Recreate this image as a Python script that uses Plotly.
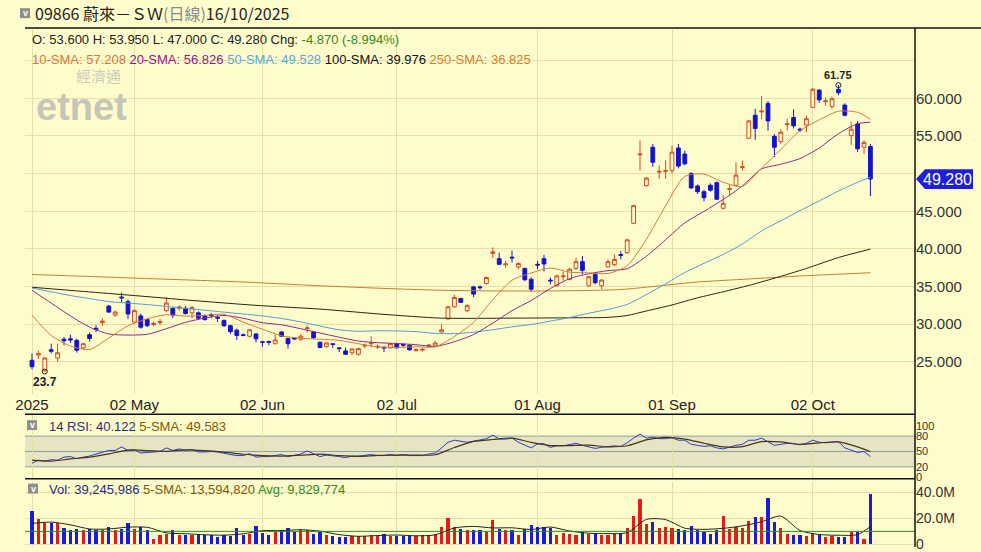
import pandas as pd
import plotly.graph_objects as go

# ---------------- data ----------------
hk_holidays = ["2025-04-18", "2025-04-21", "2025-05-01", "2025-05-05",
               "2025-07-01", "2025-10-01", "2025-10-07"]
dates = [d.strftime("%Y-%m-%d") for d in pd.bdate_range("2025-04-07", "2025-10-16")
         if d.strftime("%Y-%m-%d") not in hk_holidays]

open_ = [25.2, 25.9, 23.8, 26.6, 25.5, 28.0, 28.05, 27.85, 26.85, 28.6,
         29.45, 30.2, 32.4, 31.2, 33.6, 32.99, 30.27, 31.1, 30.6, 29.95,
         30.2, 31.8, 32.1, 32.1, 32.1, 31.5, 31.5, 31.1, 31.25, 30.9,
         30.5, 29.8, 29.2, 28.6, 28.4, 28.7, 27.65, 27.7, 27.4, 28.95,
         28.1, 28.15, 28.0, 29.4, 28.95, 27.6, 27.0, 27.4, 26.85, 26.45,
         26.2, 26.0, 27.1, 27.4, 26.95, 26.95, 26.85, 27.4, 27.3, 27.2,
         26.5, 26.55, 27.1, 27.1, 28.95, 30.7, 32.3, 33.4, 31.8, 34.95,
         34.95, 35.4, 39.4, 38.7, 37.9, 38.9, 37.6, 37.4, 35.95, 37.95,
         38.7, 35.85, 35.1, 36.3, 35.95, 37.4, 38.3, 35.1, 36.6, 35.1,
         37.6, 37.9, 39.25, 39.5, 43.4, 52.5, 48.4, 53.5, 50.2, 50.3,
         50.4, 53.4, 52.6, 50.0, 48.35, 47.6, 48.45, 48.8, 45.4, 47.9,
         48.45, 50.8, 54.7, 57.75, 58.2, 59.3, 54.95, 54.25, 56.5, 57.45,
         55.9, 56.45, 58.8, 61.1, 59.55, 58.9, 61.2, 59.1, 55.05, 56.6,
         53.5, 53.6]
high = [26.1, 26.5, 25.6, 27.4, 27.4, 28.3, 28.6, 28.07, 27.5, 28.9,
        29.85, 30.8, 32.55, 31.8, 34.2, 33.3, 32.0, 31.4, 30.7, 30.35,
        30.7, 33.6, 32.2, 32.5, 32.4, 32.4, 31.7, 31.3, 31.5, 31.15,
        30.6, 29.9, 29.4, 28.75, 29.35, 28.8, 27.7, 27.8, 28.6, 29.1,
        28.2, 28.2, 28.7, 29.85, 29.1, 27.7, 27.6, 27.45, 26.9, 26.9,
        26.8, 26.85, 27.45, 28.4, 27.3, 27.0, 27.5, 27.5, 27.45, 27.3,
        26.75, 26.85, 27.35, 27.75, 29.95, 32.45, 33.9, 33.5, 32.65, 35.1,
        35.15, 36.3, 40.2, 39.5, 38.4, 39.8, 38.2, 37.5, 36.2, 38.4,
        39.2, 36.2, 36.6, 37.0, 37.5, 38.8, 39.05, 36.4, 36.8, 36.0,
        38.6, 39.25, 39.7, 41.35, 45.85, 54.4, 49.55, 53.95, 51.1, 51.75,
        53.7, 53.95, 53.05, 50.2, 48.55, 47.85, 48.7, 48.95, 47.15, 48.5,
        51.5, 51.75, 57.15, 58.6, 60.3, 59.65, 55.25, 55.9, 57.3, 58.55,
        56.1, 57.7, 61.4, 61.2, 60.1, 60.2, 61.75, 59.35, 56.9, 57.0,
        54.4, 53.95]
low = [24.0, 25.4, 23.7, 26.1, 25.0, 27.2, 27.5, 26.23, 26.7, 27.7,
       28.95, 29.8, 31.5, 31.0, 32.9, 30.7, 30.2, 29.4, 29.6, 29.75,
       29.9, 31.6, 30.8, 31.8, 31.3, 30.8, 30.6, 30.5, 30.8, 30.3,
       29.6, 28.7, 27.9, 28.4, 28.2, 27.6, 27.0, 27.2, 27.3, 28.3,
       26.75, 27.9, 27.8, 28.9, 28.0, 26.8, 26.9, 26.85, 26.3, 25.9,
       25.9, 25.8, 26.8, 26.9, 26.7, 26.3, 26.8, 26.8, 27.0, 26.45,
       26.35, 26.35, 26.95, 27.0, 28.9, 30.6, 32.2, 32.8, 31.6, 33.6,
       34.6, 35.3, 38.8, 37.9, 37.5, 38.2, 37.3, 35.7, 34.3, 37.3,
       37.0, 35.3, 35.0, 35.8, 35.8, 37.2, 36.6, 35.0, 35.3, 34.65,
       37.5, 37.7, 38.6, 39.35, 43.3, 50.4, 48.25, 50.9, 49.3, 49.3,
       50.0, 50.7, 51.1, 47.95, 47.3, 46.3, 47.6, 46.5, 45.2, 47.15,
       48.35, 50.4, 54.6, 54.5, 57.2, 55.7, 52.2, 53.95, 55.7, 56.0,
       55.5, 55.5, 58.7, 59.4, 59.0, 58.6, 60.4, 57.6, 53.8, 52.85,
       52.6, 47.0]
close = [24.35, 26.1, 25.5, 26.4, 26.2, 27.8, 27.9, 26.54, 27.4, 28.1,
         29.3, 30.4, 31.6, 31.6, 33.5, 31.36, 31.8, 29.6, 29.8, 30.1,
         30.35, 32.8, 31.2, 32.3, 31.4, 32.2, 30.8, 30.6, 31.15, 30.8,
         29.8, 29.0, 28.5, 28.5, 29.25, 28.05, 27.6, 27.6, 27.9, 28.4,
         27.4, 28.05, 28.4, 29.5, 28.2, 26.9, 27.5, 27.3, 26.75, 26.0,
         26.7, 26.75, 27.2, 27.5, 27.05, 26.85, 27.4, 26.85, 27.2, 26.6,
         26.6, 26.65, 27.2, 27.5, 29.25, 32.3, 33.55, 32.9, 32.45, 34.0,
         34.85, 36.2, 39.6, 37.95, 38.0, 38.8, 38.05, 35.9, 34.65, 37.85,
         38.0, 35.75, 36.4, 36.4, 37.3, 38.3, 37.15, 36.3, 35.5, 35.85,
         38.3, 38.6, 39.15, 41.2, 45.75, 52.6, 49.4, 51.5, 50.3, 50.4,
         52.85, 51.0, 51.3, 48.1, 47.6, 46.8, 47.8, 46.6, 46.05, 48.0,
         49.8, 50.9, 57.0, 56.0, 58.3, 57.0, 53.5, 55.5, 56.6, 56.35,
         55.8, 57.3, 61.2, 59.8, 59.65, 59.95, 60.75, 57.75, 55.9, 53.3,
         54.15, 49.28]
volume_m = [26, 19.7, 17, 16.7, 17, 13, 10.8, 12, 10.8, 12,
            10.8, 11.5, 13.3, 11.5, 12, 17, 12, 13.3, 10.8, 4.4,
            7, 8.2, 10.8, 7, 7, 7.4, 7.4, 7, 7, 5.6,
            7.4, 6.4, 12.6, 7.4, 8.2, 14.6, 9, 7, 10, 11.5,
            12.6, 10, 11.5, 10.8, 8.2, 9.5, 7, 6.4, 5.6, 5.6,
            6.2, 6.4, 6.4, 7.4, 6.4, 8.2, 6.4, 6.4, 6.4, 6.4,
            6.4, 7, 7.4, 8.2, 13.3, 20.3, 13.3, 12, 11.5, 11.5,
            10.8, 9.5, 19.2, 12, 10.8, 11.5, 7, 12, 15, 13.3,
            13.3, 12.6, 7.4, 9, 8.2, 7, 9.5, 8.2, 8.2, 7.4,
            7.4, 8.2, 9, 12.6, 22.3, 35.6, 16, 17.7, 12.6, 13.3,
            12.6, 12, 10.8, 14, 10.8, 9.5, 8.2, 10.8, 21.8, 12,
            13.3, 12.6, 18.5, 21, 21, 36.4, 17.7, 12.6, 8.2, 7,
            7, 6.4, 9, 7.4, 5.6, 6.4, 5.6, 5.5, 9.5, 9.5,
            4.3, 39.245986]
vol_avg_m = 9.829774

rsi14 = [27, 33, 31, 34, 33, 39, 40, 36, 39, 41,
         45, 49, 52, 52, 59, 52, 53, 47, 48, 49,
         50, 57, 52, 55, 52, 54, 49, 49, 50, 49,
         46, 44, 42, 42, 46, 39, 40, 40, 42, 44,
         40, 43, 45, 51, 45, 40, 43, 42, 40, 38,
         41, 41, 43, 44, 42, 42, 44, 42, 44, 42,
         42, 42, 45, 47, 57, 68, 72, 70, 68, 70,
         72, 75, 82, 74, 74, 76, 68, 63, 57, 65,
         65, 58, 61, 61, 63, 66, 62, 59, 56, 58,
         60, 61, 60, 67, 76, 84, 76, 78, 75, 75,
         77, 72, 72, 64, 62, 60, 61, 57, 55, 59,
         62, 64, 72, 72, 76, 69, 62, 64, 66, 65,
         63, 66, 72, 68, 67, 68, 69, 57, 53, 48,
         50, 40.122]

# indicator lines at sample trading days
knot_idx = list(range(0, 130, 3)) + [131]
sma10 = [31.2, 28.5, 27.1, 26.63, 28.16, 29.77, 30.71, 31.25, 31.07, 31.16, 31.3, 30.28,
         29.33, 28.46, 28.12, 28.0, 27.84, 27.4, 26.97, 26.9, 27.0, 26.99, 28.37, 30.24,
         33.26, 35.83, 36.8, 37.46, 36.91, 36.81, 36.73, 37.77, 41.27, 45.72, 49.63, 49.93,
         48.85, 48.3, 50.73, 53.2, 55.7, 57.14, 58.29, 58.14, 57.208]
sma20 = [34.5, 32.8, 31.1, 29.6, 28.7, 28.55, 28.65, 29.4, 30.24, 30.81, 31.16, 30.78,
         30.19, 29.91, 29.39, 28.82, 28.27, 27.76, 27.54, 27.43, 27.27, 27.04, 27.66, 28.63,
         30.13, 31.79, 33.15, 34.74, 36.05, 36.7, 37.11, 37.37, 39.02, 41.21, 43.46, 44.98,
         46.56, 48.36, 50.62, 51.24, 52.0, 53.4, 55.3, 56.62, 56.826]
sma50 = [34.8, 34.3, 33.8, 33.4, 33.0, 32.8, 32.6, 32.35, 32.1, 31.85, 31.6, 31.35,
         31.1, 30.75, 30.3, 29.75, 29.25, 29.05, 29.12, 29.1, 29.01, 28.77, 28.74, 28.93,
         29.26, 29.64, 29.96, 30.4, 30.88, 31.45, 31.96, 32.62, 33.93, 35.37, 36.86, 38.08,
         39.26, 40.64, 42.39, 43.73, 45.08, 46.37, 47.68, 48.85, 49.528]
rsi_sma5 = [33, 31, 35.4, 39, 45.2, 52.8, 51.8, 50.2, 53.2, 51.8, 48.6, 44.6,
            41.8, 41, 42.8, 44.8, 42, 40.4, 42.2, 42.8, 42.8, 43.6, 57.8, 69.6,
            73.4, 76.2, 67.6, 61.6, 61.6, 62.2, 59, 61.2, 72.6, 77.6, 74.2, 66,
            59, 59.4, 69.2, 68.6, 64, 66.8, 68.8, 59, 49.583]
vol_sma5_m = [16.0, 17.0, 14.9, 11.7, 11.7, 13.1, 13.0, 8.7, 8.0, 7.2, 6.9, 7.9,
              10.4, 10.4, 11.1, 10.0, 7.3, 6.0, 6.6, 7.0, 6.4, 7.1, 12.5, 13.7,
              12.5, 12.6, 11.3, 13.2, 10.1, 8.4, 8.1, 8.9, 19.1, 19.0, 12.3, 11.4,
              12.2, 14.1, 17.3, 21.7, 10.5, 7.4, 6.8, 7.3, 13.59482]
sma100_idx = [0, 8, 16, 25, 35, 45, 55, 64, 75, 85, 90, 93, 96, 100, 104, 108, 112, 116, 121, 126, 131]
sma100 = [34.9, 34.35, 33.8, 33.15, 32.5, 32.0, 31.3, 30.8, 30.8, 30.85, 30.9, 31.15, 31.75,
          32.55, 33.5, 34.3, 35.15, 36.1, 37.4, 38.85, 39.976]
sma250_idx = [0, 10, 20, 33, 45, 55, 64, 75, 85, 92, 97, 104, 112, 120, 131]
sma250 = [36.6, 36.3, 36.0, 35.6, 35.1, 34.75, 34.5, 34.4, 34.45, 34.6, 35.0, 35.6, 36.0, 36.4, 36.825]

tick_dates = ["2025-04-07", "2025-05-02", "2025-06-02", "2025-07-02",
              "2025-08-01", "2025-09-01", "2025-10-02"]
tick_labels = ["2025", "02 May", "02 Jun", "02 Jul", "01 Aug", "01 Sep", "02 Oct"]
price_ticks = [20, 25, 30, 35, 40, 45, 50, 55, 60, 65]

n = len(dates)
assert n == 132 and all(len(a) == n for a in (open_, high, low, close, volume_m, rsi14))

# ---------------- styling ----------------
W, H = 981, 552
ML, MR, MT, MB = 25, 66, 30, 0
PW, PH = W - ML - MR, H - MT - MB
def fx(px): return (px - ML) / PW
def fy(py): return (H - MB - py) / PH

BG = "#FFFCCC"
GRID = "#E6E0A8"
UP = "#D24A1E"
DN = "#1414C8"
VUP, VDN = "#E31B1B", "#1B1BE0"
C10, C20, C50, C100, C250 = "#D07A40", "#8B2A8B", "#4E9ED6", "#2E2214", "#C47E2E"
FONT = "Liberation Sans, Arial, sans-serif"
CJK = "Noto Sans CJK TC, Liberation Sans, sans-serif"

kx = [dates[i] for i in knot_idx]
fig = go.Figure()

for xs, ys, col in [([dates[i] for i in sma250_idx], sma250, C250),
                    ([dates[i] for i in sma100_idx], sma100, C100),
                    (kx, sma50, C50), (kx, sma20, C20), (kx, sma10, C10)]:
    fig.add_trace(go.Scatter(x=xs, y=ys, mode="lines", line=dict(color=col, width=1, shape="spline", smoothing=0.7),
                             hoverinfo="skip", showlegend=False, xaxis="x", yaxis="y"))

fig.add_trace(go.Candlestick(x=dates, open=open_, high=high, low=low, close=close,
                             increasing=dict(line=dict(color=UP, width=1), fillcolor=BG),
                             decreasing=dict(line=dict(color=DN, width=1), fillcolor=DN),
                             whiskerwidth=0, showlegend=False, hoverinfo="skip",
                             xaxis="x", yaxis="y"))

ih = max(range(n), key=lambda i: high[i])
il = min(range(n), key=lambda i: low[i])
fig.add_trace(go.Scatter(x=[dates[ih], dates[il]], y=[high[ih], low[il]], mode="markers",
                         marker=dict(symbol="circle-open", size=5, color="#222", line=dict(width=1)),
                         hoverinfo="skip", showlegend=False, xaxis="x", yaxis="y"))

# RSI panel
fig.add_trace(go.Scatter(x=dates, y=rsi14, mode="lines", line=dict(color="#2B3CC8", width=1),
                         hoverinfo="skip", showlegend=False, xaxis="x2", yaxis="y2"))
fig.add_trace(go.Scatter(x=kx, y=rsi_sma5, mode="lines", line=dict(color="#4A3418", width=1.2, shape="spline", smoothing=0.7),
                         hoverinfo="skip", showlegend=False, xaxis="x2", yaxis="y2"))

# Volume panel
vcols = [VUP if c > o else VDN for o, c in zip(open_, close)]
fig.add_trace(go.Bar(x=dates, y=volume_m, marker=dict(color=vcols, line=dict(width=0)), width=0.5,
                     hoverinfo="skip", showlegend=False, xaxis="x3", yaxis="y3"))
fig.add_trace(go.Scatter(x=kx, y=vol_sma5_m, mode="lines", line=dict(color="#222", width=1, shape="spline", smoothing=0.7),
                         hoverinfo="skip", showlegend=False, xaxis="x3", yaxis="y3"))

xr = [(ML - 32) / 6.4, (ML + PW - 32) / 6.4]
xcommon = dict(type="category", categoryorder="array", categoryarray=dates, range=xr,
               tickvals=tick_dates, showgrid=True, gridcolor=GRID, gridwidth=1,
               zeroline=False, showline=False, ticks="", fixedrange=True)

main_dom = [fy(398), 1]
rsi_dom = [fy(483), fy(418)]
vol_dom = [0, fy(486)]
p_top = 60 + (99 - 30) / 7.6
p_bot = 60 - (398 - 99) / 7.6
r_top, r_bot = 100 + (429.7 - 418) / 0.517, 100 - (483 - 429.7) / 0.517
v_scale = 1.3
v_top, v_bot = (549 - 486) / v_scale, (549 - 552) / v_scale

last = close[-1]
ptext = ["" if (v in (20, 65) or abs(v - last) < 2.0) else f"{v:.3f}" for v in price_ticks]

fig.update_layout(
    width=W, height=H, margin=dict(l=ML, r=MR, t=MT, b=MB),
    paper_bgcolor=BG, plot_bgcolor=BG, font=dict(family=FONT, color="#222"),
    bargap=0, boxgap=0.15, showlegend=False,
    xaxis=dict(**xcommon, ticktext=tick_labels, showticklabels=True, anchor="y", domain=[0, 1],
               tickfont=dict(size=15, color="#222"), rangeslider=dict(visible=False)),
    yaxis=dict(domain=main_dom, range=[p_bot, p_top], side="right", anchor="x",
               tickvals=price_ticks, ticktext=ptext,
               showgrid=True, gridcolor=GRID, zeroline=False, ticks="",
               tickfont=dict(size=15, color="#333"), fixedrange=True),
    xaxis2=dict(**xcommon, showticklabels=False, anchor="y2", domain=[0, 1]),
    yaxis2=dict(domain=rsi_dom, range=[r_bot, r_top], side="right", anchor="x2",
                tickvals=[0, 20, 50, 80, 100], showgrid=False, zeroline=False, ticks="",
                tickfont=dict(size=11, color="#333"), fixedrange=True),
    xaxis3=dict(**xcommon, showticklabels=False, anchor="y3", domain=[0, 1]),
    yaxis3=dict(domain=vol_dom, range=[v_bot, v_top], side="right", anchor="x3",
                tickvals=[0, 20, 40], ticktext=["0", "20.0M", "40.0M"], showgrid=True,
                gridcolor=GRID, zeroline=False, ticks="", ticklabeloverflow="allow",
                tickfont=dict(size=14, color="#333"), fixedrange=True),
)

shapes = []
shapes.append(dict(type="rect", xref="paper", yref="y2", x0=0, x1=1, y0=20, y1=80,
                   fillcolor="#E7E4C3", line=dict(width=0), layer="below"))
for lv in (20, 50, 80):
    shapes.append(dict(type="line", xref="paper", yref="y2", x0=0, x1=1, y0=lv, y1=lv,
                       line=dict(color="#86A39A", width=1), layer="below"))
shapes.append(dict(type="line", xref="paper", yref="y3", x0=0, x1=1, y0=vol_avg_m, y1=vol_avg_m,
                   line=dict(color="#2E8B22", width=1)))
shapes.append(dict(type="line", xref="paper", yref="paper", x0=0, x1=fx(981), y0=fy(28), y1=fy(28),
                   line=dict(color="#111", width=1.5)))
for py in (418, 483):
    shapes.append(dict(type="line", xref="paper", yref="paper", x0=0, x1=1, y0=fy(py), y1=fy(py),
                       line=dict(color="#111", width=1.5)))
shapes.append(dict(type="line", xref="paper", yref="paper", x0=1, x1=1, y0=0, y1=fy(28),
                   line=dict(color="#111", width=1.5)))
icons = [(20, 8), (27, 424), (28, 488)]
for (x0, y0) in icons:
    shapes.append(dict(type="rect", xref="paper", yref="paper", x0=fx(x0), x1=fx(x0 + 10),
                       y0=fy(y0 + 10), y1=fy(y0), fillcolor="#8E8E8E", line=dict(width=0)))
hh = 10 / 7.6
shapes.append(dict(type="path", xref="paper", yref="y",
                   path=f"M {fx(916)},{last} L {fx(925)},{last + hh} L {fx(973)},{last + hh} "
                        f"L {fx(973)},{last - hh} L {fx(925)},{last - hh} Z",
                   fillcolor="#1E1EDC", line=dict(width=0)))
fig.update_layout(shapes=shapes)

chg = close[-1] - close[-2]
pct = chg / close[-2] * 100
ann = []
def A(px, py, text, size=13, color="#222", family=FONT, xanchor="left", **kw):
    ann.append(dict(xref="paper", yref="paper", x=fx(px), y=fy(py), text=text, showarrow=False,
                    xanchor=xanchor, yanchor="middle", font=dict(size=size, color=color, family=family), **kw))

A(33, 13, "09866 蔚來－ＳＷ<span style='color:#8A8A8A'>(日線)</span>16/10/2025", size=16, family=CJK)
A(30, 40, f"O: {open_[-1]:.3f} H: {high[-1]:.3f} L: {low[-1]:.3f} C: {close[-1]:.3f} Chg: "
          f"<span style='color:#2E8B22'>{chg:.3f} ({pct:.3f}%)</span>", size=13)
A(30, 60, f"<span style='color:{C10}'>10-SMA: {sma10[-1]:.3f}</span> "
          f"<span style='color:#8B1A8B'>20-SMA: {sma20[-1]:.3f}</span> "
          f"<span style='color:#5AA6DC'>50-SMA: {sma50[-1]:.3f}</span> "
          f"<span style='color:#111'>100-SMA: {sma100[-1]:.3f}</span> "
          f"<span style='color:#D0802E'>250-SMA: {sma250[-1]:.3f}</span>", size=13)
A(47, 430, f"<span style='color:#1F2F7F'>14 RSI: {rsi14[-1]:.3f}</span> "
           f"<span style='color:#7A5A10'>5-SMA: {rsi_sma5[-1]:.3f}</span>", size=13)
A(47, 494, f"<span style='color:#1F2F7F'>Vol: {round(volume_m[-1] * 1e6):,}</span> "
           f"<span style='color:#7A5A10'>5-SMA: {round(vol_sma5_m[-1] * 1e6):,}</span> "
           f"<span style='color:#2E8B22'>Avg: {round(vol_avg_m * 1e6):,}</span>", size=13)
A(98, 76, "經濟通", size=15, color="#CBCBBC", family=CJK, xanchor="center")
A(81, 108, "<b>etnet</b>", size=38, color="#C6C6B6", xanchor="center")
for (x0, y0) in icons:
    A(x0 + 5, y0 + 5, "<b>v</b>", size=9, color="#FFFFFF", xanchor="center")
ann.append(dict(xref="x", yref="y", x=dates[ih], y=high[ih], text=f"<b>{high[ih]:g}</b>", showarrow=False,
                yshift=10, font=dict(size=11, color="#222", family=FONT)))
ann.append(dict(xref="x", yref="y", x=dates[il], y=low[il], text=f"<b>{low[il]:g}</b>", showarrow=False,
                yshift=-10, font=dict(size=12, color="#222", family=FONT)))
ann.append(dict(xref="paper", yref="y", x=fx(948), y=last, text=f"{last:.3f}", showarrow=False,
                xanchor="center", yanchor="middle", font=dict(size=16, color="#FFFFFF", family=FONT)))
fig.update_layout(annotations=ann)

fig.write_html("out.html", config={"displayModeBar": False},
               post_script="document.body.style.margin='0';document.body.style.background='" + BG + "';")
